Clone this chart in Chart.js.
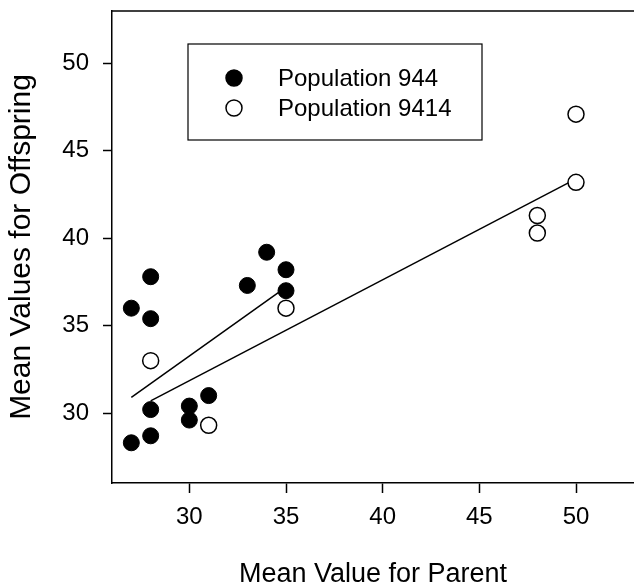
<!DOCTYPE html>
<html>
<head>
<meta charset="utf-8">
<script src="https://cdn.jsdelivr.net/npm/chart.js@4"></script>
<style>
  html, body { margin: 0; padding: 0; background: #fff; overflow: hidden; }
  canvas { display: block; }
</style>
</head>
<body>
<canvas id="c" width="634" height="584"></canvas>
<script>
  // values
  const pop944X = [27, 27, 28, 28, 28, 28, 30, 30, 31, 33, 34, 35, 35];
  const pop944Y = [36.0, 28.3, 37.8, 35.4, 30.2, 28.7, 30.4, 29.6, 31.0, 37.3, 39.2, 38.2, 37.0];
  const pop9414X = [28, 31, 35, 48, 48, 50, 50];
  const pop9414Y = [33.0, 29.3, 36.0, 41.3, 40.3, 43.2, 47.1];
  // fitted lines (end points)
  const fit944X = [27, 35];
  const fit944Y = [30.9, 37.2];
  const fit9414X = [28, 50];
  const fit9414Y = [30.7, 43.4];
  const xTicks = [30, 35, 40, 45, 50];
  const yTicks = [30, 35, 40, 45, 50];

  const FONT = "'Liberation Sans', Arial, sans-serif";
  const toPts = (xs, ys) => xs.map((x, i) => ({ x, y: ys[i] }));

  // frame top line + legend box inside the plot
  const framePlugin = {
    id: 'frame',
    afterDraw(chart) {
      const { ctx, chartArea } = chart;
      ctx.save();
      ctx.strokeStyle = '#000';
      ctx.lineWidth = 1.5;
      ctx.beginPath();
      ctx.moveTo(chartArea.left, chartArea.top);
      ctx.lineTo(chartArea.right, chartArea.top);
      ctx.stroke();

      // legend
      ctx.lineWidth = 1.2;
      ctx.strokeRect(188, 44, 294, 96);
      const items = chart.data.datasets.filter(d => !d.showLine);
      ctx.font = '24px ' + FONT;
      ctx.textBaseline = 'middle';
      ctx.textAlign = 'left';
      items.forEach((d, i) => {
        const y = 78 + i * 30;
        ctx.beginPath();
        ctx.arc(234, y, 8, 0, Math.PI * 2);
        ctx.fillStyle = d.backgroundColor;
        ctx.fill();
        ctx.lineWidth = 1.5;
        ctx.strokeStyle = '#000';
        ctx.stroke();
        ctx.fillStyle = '#000';
        ctx.fillText(d.label, 278, y + 1);
      });
      ctx.restore();
    }
  };

  new Chart(document.getElementById('c'), {
    type: 'scatter',
    data: {
      datasets: [
        { label: 'Population 944', data: toPts(pop944X, pop944Y),
          backgroundColor: '#000', borderColor: '#000', borderWidth: 1, pointRadius: 8, order: 0 },
        { label: 'Population 9414', data: toPts(pop9414X, pop9414Y),
          backgroundColor: '#fff', borderColor: '#000', borderWidth: 1.5, pointRadius: 8, order: 0 },
        { label: 'fit 944', data: toPts(fit944X, fit944Y), showLine: true,
          borderColor: '#000', borderWidth: 1.5, pointRadius: 0, order: 1 },
        { label: 'fit 9414', data: toPts(fit9414X, fit9414Y), showLine: true,
          borderColor: '#000', borderWidth: 1.5, pointRadius: 0, order: 1 }
      ]
    },
    options: {
      responsive: false,
      animation: false,
      devicePixelRatio: 1,
      layout: { autoPadding: false, padding: { top: 11, right: 0, left: 0, bottom: 0 } },
      plugins: { legend: { display: false }, tooltip: { enabled: false } },
      scales: {
        x: {
          type: 'linear', min: 26, max: 53,
          afterBuildTicks: s => { s.ticks = xTicks.map(v => ({ value: v })); },
          afterFit: s => { s.height = 101; s.paddingLeft = 0; s.paddingRight = 0; },
          grid: { drawOnChartArea: false, tickLength: 10, tickColor: '#000', tickWidth: 1.5 },
          border: { color: '#000', width: 1.5 },
          ticks: { color: '#000', padding: 10, font: { family: FONT, size: 24 } },
          title: { display: true, text: 'Mean Value for Parent', color: '#000',
                   font: { family: FONT, size: 27, lineHeight: 0.7 }, padding: { top: 0, bottom: 0 } }
        },
        y: {
          type: 'linear', min: 26, max: 53,
          afterBuildTicks: s => { s.ticks = yTicks.map(v => ({ value: v })); },
          afterFit: s => { s.width = 112; s.paddingTop = 0; s.paddingBottom = 0; },
          grid: { drawOnChartArea: false, tickLength: 9, tickColor: '#000', tickWidth: 1.5 },
          border: { color: '#000', width: 1.5 },
          ticks: { color: '#000', padding: 14, font: { family: FONT, size: 24 } },
          title: { display: true, text: 'Mean Values for Offspring', color: '#000',
                   font: { family: FONT, size: 30 }, padding: { top: 4, bottom: 0 } }
        }
      }
    },
    plugins: [framePlugin]
  });
</script>
</body>
</html>
